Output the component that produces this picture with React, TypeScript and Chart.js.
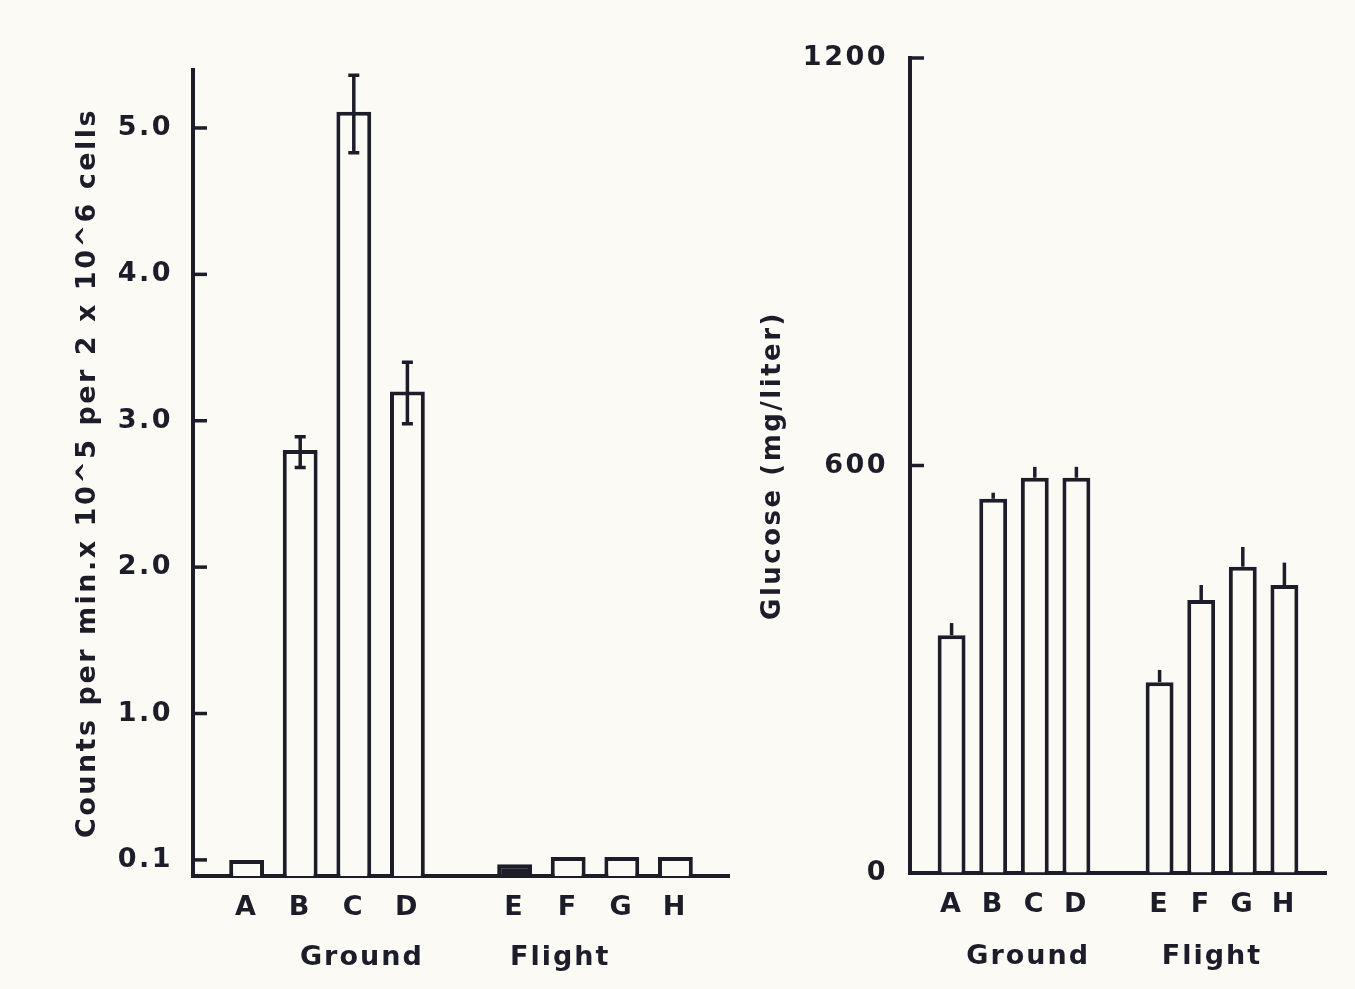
import React, { useEffect, useRef } from "react";
import { Chart, registerables } from "chart.js";

Chart.register(...registerables);

// ---- data ----
const GROUND_CATEGORIES = ["A", "B", "C", "D"];
const FLIGHT_CATEGORIES = ["E", "F", "G", "H"];
const GROUP_NAMES = ["Ground", "Flight"];

// Left panel (values on the drawn axis scale; the bottom tick labelled "0.1" sits at 0)
const COUNTS_VALUES = [0.0, 2.8, 5.11, 3.2, -0.03, 0.02, 0.02, 0.02];
const COUNTS_ERR_LOW = [null, 2.68, 4.83, 2.98, null, null, null, null];
const COUNTS_ERR_HIGH = [null, 2.89, 5.36, 3.4, null, null, null, null];
const COUNTS_TICK_VALUES = [0, 1, 2, 3, 4, 5];
const COUNTS_TICK_LABELS = ["0.1", "1.0", "2.0", "3.0", "4.0", "5.0"];
const COUNTS_TITLE = "Counts per min.x 10^5 per 2 x 10^6 cells";

// Right panel
const GLUCOSE_VALUES = [350, 551, 582, 582, 281, 402, 451, 424];
const GLUCOSE_ERR_HIGH = [368, 560, 598, 598, 299, 424, 480, 457];
const GLUCOSE_TICK_VALUES = [0, 600, 1200];
const GLUCOSE_TICK_LABELS = ["0", "600", "1200"];
const GLUCOSE_TITLE = "Glucose (mg/liter)";

// ---- styles ----
const INK = "#1d1d2a";
const PAPER = "#fbfaf5";
const FONT = "'DejaVu Sans', sans-serif";
const LABEL_SIZE = 27;
const LINE_W = 4;
const SOLID_BAR_PX = 14; // bars shorter than this render as a solid sliver

type PanelCfg = {
  values: number[];
  errLow: (number | null)[] | null;
  errHigh: (number | null)[];
  tickValues: number[];
  tickLabels: string[];
  title: string;
  titleSize: number;
  left: number;
  width: number;
  padTop: number;
  padRight: number;
  yAxisWidth: number;
  xAxisHeight: number;
  yMin: number;
  yMax: number;
  barPct: number;
  yTickPad: number;
  xTickPad: number;
  titlePad: number;
  capWidth: number;
  tickLen: number;
  groupPos: number[];
  groupBaseline: number;
};

const LEFT_PANEL: PanelCfg = {
  values: COUNTS_VALUES,
  errLow: COUNTS_ERR_LOW,
  errHigh: COUNTS_ERR_HIGH,
  tickValues: COUNTS_TICK_VALUES,
  tickLabels: COUNTS_TICK_LABELS,
  title: COUNTS_TITLE,
  titleSize: 27,
  left: 0,
  width: 745,
  padTop: 70,
  padRight: 13,
  yAxisWidth: 193,
  xAxisHeight: 113,
  yMin: -0.11,
  yMax: 5.396,
  barPct: 0.65,
  yTickPad: 20,
  xTickPad: 16,
  titlePad: 71.8,
  capWidth: 11,
  tickLen: 14,
  groupPos: [3.15, 6.85],
  groupBaseline: 965,
};

const RIGHT_PANEL: PanelCfg = {
  values: GLUCOSE_VALUES,
  errLow: null,
  errHigh: GLUCOSE_ERR_HIGH,
  tickValues: GLUCOSE_TICK_VALUES,
  tickLabels: GLUCOSE_TICK_LABELS,
  title: GLUCOSE_TITLE,
  titleSize: 26,
  left: 745,
  width: 610,
  padTop: 58,
  padRight: 29,
  yAxisWidth: 165,
  xAxisHeight: 116,
  yMin: 0,
  yMax: 1200,
  barPct: 0.67,
  yTickPad: 22,
  xTickPad: 16,
  titlePad: 12.4,
  capWidth: 0,
  tickLen: 14,
  groupPos: [2.84, 7.26],
  groupBaseline: 964,
};

const HEIGHT = 989;

function padGroups<T>(arr: T[]): (T | null)[] {
  return [null, ...arr.slice(0, 4), null, ...arr.slice(4), null];
}

const spacingPlugin = {
  id: "letterSpacing",
  beforeDraw(chart: any) {
    chart.ctx.letterSpacing = "2.5px";
  },
  afterDraw(chart: any) {
    chart.ctx.letterSpacing = "0px";
  },
};

function makeDecor(c: PanelCfg) {
  return {
    id: "decor",
    afterDraw(chart: any) {
      const { ctx, chartArea } = chart;
      const xs = chart.scales.x;
      const ys = chart.scales.y;
      ctx.save();
      ctx.strokeStyle = INK;
      ctx.lineWidth = 3.5;
      ctx.lineCap = "butt";
      // inward tick marks on the value axis
      ys.ticks.forEach((t: any) => {
        const py = ys.getPixelForValue(t.value);
        ctx.beginPath();
        ctx.moveTo(chartArea.left, py);
        ctx.lineTo(chartArea.left + c.tickLen, py);
        ctx.stroke();
      });
      // error bars
      const meta = chart.getDatasetMeta(0);
      const hi = padGroups(c.errHigh);
      const lo = padGroups(c.errLow ? c.errLow : c.values);
      meta.data.forEach((el: any, i: number) => {
        if (hi[i] == null || lo[i] == null) return;
        const x = el.x;
        const y1 = ys.getPixelForValue(lo[i]);
        const y2 = ys.getPixelForValue(hi[i]);
        ctx.beginPath();
        ctx.moveTo(x, y1);
        ctx.lineTo(x, y2);
        if (c.capWidth > 0) {
          ctx.moveTo(x - c.capWidth / 2, y1);
          ctx.lineTo(x + c.capWidth / 2, y1);
          ctx.moveTo(x - c.capWidth / 2, y2);
          ctx.lineTo(x + c.capWidth / 2, y2);
        }
        ctx.stroke();
      });
      // group names
      ctx.letterSpacing = "2px";
      ctx.fillStyle = INK;
      ctx.font = `bold ${LABEL_SIZE}px ${FONT}`;
      ctx.textAlign = "center";
      ctx.textBaseline = "alphabetic";
      GROUP_NAMES.forEach((name, k) => {
        ctx.fillText(name, xs.getPixelForValue(c.groupPos[k]), c.groupBaseline);
      });
      ctx.restore();
    },
  };
}

function Panel({ cfg }: { cfg: PanelCfg }) {
  const ref = useRef<HTMLCanvasElement>(null);
  useEffect(() => {
    const c = cfg;
    const labels = ["", ...GROUND_CATEGORIES, "", ...FLIGHT_CATEGORIES, ""];
    const chart = new Chart(ref.current as HTMLCanvasElement, {
      type: "bar",
      data: {
        labels,
        datasets: [
          {
            data: padGroups(c.values) as any,
            backgroundColor: (ctx: any) => {
              const v = ctx.raw;
              if (v == null) return PAPER;
              const ys = ctx.chart.scales.y;
              if (!ys) return PAPER;
              const h = Math.abs(ys.getPixelForValue(c.yMin) - ys.getPixelForValue(v));
              return h < SOLID_BAR_PX ? INK : PAPER;
            },
            borderColor: INK,
            borderWidth: LINE_W,
            borderSkipped: "start",
            base: c.yMin,
            barPercentage: c.barPct,
            categoryPercentage: 1,
          } as any,
        ],
      },
      options: {
        responsive: false,
        animation: false,
        events: [],
        layout: { padding: { top: c.padTop, right: c.padRight, left: 0, bottom: 0 } },
        plugins: { legend: { display: false }, tooltip: { enabled: false } },
        scales: {
          x: {
            type: "category",
            offset: false,
            grid: { display: true, drawOnChartArea: false, drawTicks: false, offset: false },
            border: { display: true, color: INK, width: LINE_W },
            ticks: {
              color: INK,
              font: { family: FONT, size: LABEL_SIZE, weight: "bold" },
              padding: c.xTickPad,
              autoSkip: false,
              maxRotation: 0,
            },
            afterFit: (s: any) => {
              s.height = c.xAxisHeight;
            },
          },
          y: {
            type: "linear",
            min: c.yMin,
            max: c.yMax,
            grid: { display: true, drawOnChartArea: false, drawTicks: false },
            border: { display: true, color: INK, width: LINE_W },
            ticks: {
              color: INK,
              font: { family: FONT, size: LABEL_SIZE, weight: "bold" },
              padding: c.yTickPad,
              callback: (v: any) => {
                const i = c.tickValues.indexOf(Number(v));
                return i >= 0 ? c.tickLabels[i] : "";
              },
            },
            afterBuildTicks: (s: any) => {
              s.ticks = c.tickValues.map((v) => ({ value: v }));
            },
            afterFit: (s: any) => {
              s.width = c.yAxisWidth;
            },
            title: {
              display: true,
              text: c.title,
              color: INK,
              font: { family: FONT, size: c.titleSize, weight: "bold", lineHeight: 1.2 },
              padding: { top: c.titlePad, bottom: 0 },
            },
          },
        },
      } as any,
      plugins: [spacingPlugin, makeDecor(c)],
    });
    return () => chart.destroy();
  }, [cfg]);
  return (
    <canvas
      ref={ref}
      width={cfg.width}
      height={HEIGHT}
      style={{ position: "absolute", left: cfg.left, top: 0, width: cfg.width, height: HEIGHT, display: "block" }}
    />
  );
}

export default function App() {
  return (
    <div
      style={{
        position: "fixed",
        left: 0,
        top: 0,
        width: 1355,
        height: HEIGHT,
        background: PAPER,
        overflow: "hidden",
      }}
    >
      <Panel cfg={LEFT_PANEL} />
      <Panel cfg={RIGHT_PANEL} />
    </div>
  );
}
